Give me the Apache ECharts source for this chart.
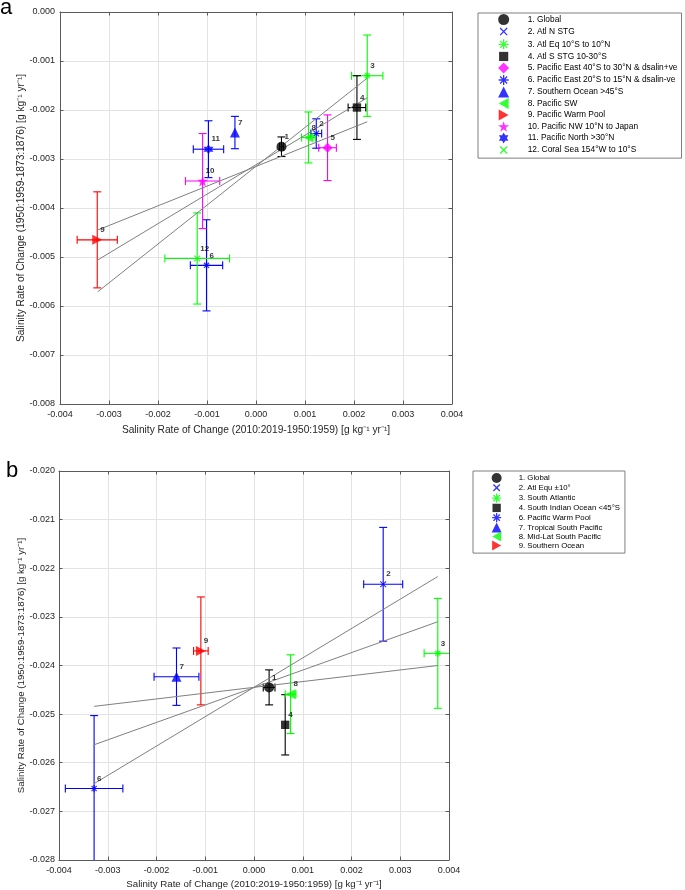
<!DOCTYPE html>
<html>
<head>
<meta charset="utf-8">
<title>Salinity rate of change</title>
<script src="https://cdn.jsdelivr.net/npm/echarts@6/dist/echarts.min.js"></script>
<style>
  html, body { margin: 0; padding: 0; background: #fff; }
  #main { width: 685px; height: 890px; }
</style>
</head>
<body>
<div id="main"></div>
<script>
// ---- panel a data ----
const aNames = [
  '1. Global', '2. Atl N STG', '3. Atl Eq 10°S to 10°N', '4. Atl S STG 10-30°S',
  '5. Pacific East 40°S to 30°N & dsalin+ve', '6. Pacific East 20°S to 15°N & dsalin-ve',
  '7. Southern Ocean >45°S', '8. Pacific SW', '9. Pacific Warm Pool',
  '10. Pacific NW 10°N to Japan', '11. Pacific North >30°N', '12. Coral Sea 154°W to 10°S'
];
const aX    = [0.00052, 0.00123, 0.00227, 0.00206, 0.00146, -0.00101, -0.00043, 0.00107, -0.00324, -0.00109, -0.00097, -0.00120];
const aY    = [-0.00275, -0.00248, -0.00130, -0.00195, -0.00277, -0.00517, -0.00246, -0.00256, -0.00465, -0.00345, -0.00280, -0.00503];
const aXErr = [0.00004, 0.00011, 0.00032, 0.00018, 0.00018, 0.00033, 0, 0.00014, 0.00041, 0.00035, 0.00031, 0.00066];
const aYErr = [0.00020, 0.00030, 0.00083, 0.00065, 0.00067, 0.00093, 0.00033, 0.00052, 0.00098, 0.00097, 0.00058, 0.00093];
const aFitX  = [-0.00323, 0.00227];
const aFitY1 = [-0.00445, -0.00224];
const aFitY2 = [-0.00506, -0.00175];
const aFitY3 = [-0.00571, -0.00135];

// ---- panel b data ----
const bNames = [
  '1. Global', '2. Atl Equ ±10°', '3. South Atlantic', '4. South Indian Ocean <45°S',
  '6. Pacific Warm Pool', '7. Tropical South Pacific', '8. Mid-Lat South Pacific', '9. Southern Ocean'
];
const bX    = [0.00031, 0.00265, 0.00377, 0.00064, -0.00328, -0.00159, 0.00075, -0.00109];
const bY    = [-0.02445, -0.02233, -0.02375, -0.02522, -0.02653, -0.02423, -0.02459, -0.02370];
const bXErr = [0.00012, 0.00040, 0.00028, 0, 0.00059, 0.00046, 0.00011, 0.00015];
const bYErr = [0.00036, 0.00117, 0.00113, 0.00062, 0.00150, 0.00059, 0.00081, 0.00111];
const bFitX  = [-0.00328, 0.00377];
const bFitY1 = [-0.02484, -0.02400];
const bFitY2 = [-0.02563, -0.02310];
const bFitY3 = [-0.02643, -0.02217];

// axis ticks [min, max, step]
const xTicks = [-0.004, 0.004, 0.001];
const aYTicks = [-0.008, 0, 0.001];
const bYTicks = [-0.028, -0.020, 0.001];

// ---- styles ----
const K = '#000000', B = '#0000ff', G = '#00ff00', M = '#ff00ff', R = '#ff0000';
const aColors  = [K, B, G, K, M, B, B, G, R, M, B, G];
const aMarkers = ['circle', 'cross', 'asterisk', 'square', 'diamond', 'asterisk', 'triUp', 'triLeft', 'triRight', 'star', 'hexagram', 'cross'];
const bColors  = [K, B, G, K, B, B, G, R];
const bMarkers = ['circle', 'cross', 'asterisk', 'square', 'asterisk', 'triUp', 'triLeft', 'triRight'];

const FONT = '"Liberation Sans", Arial, Helvetica, sans-serif';

function starPath(n, inner) {
  let d = '';
  for (let k = 0; k < 2 * n; k++) {
    const r = k % 2 === 0 ? 5 : 5 * inner;
    const ang = -Math.PI / 2 + k * Math.PI / n;
    d += (k === 0 ? 'M' : 'L') + (5 + r * Math.cos(ang)).toFixed(3) + ',' + (5 + r * Math.sin(ang)).toFixed(3);
  }
  return 'path://' + d + 'Z';
}

const SYMBOL = {
  circle: 'circle',
  cross: 'path://M-2.8,-2.8M12.8,12.8M0,0L10,10M10,0L0,10',
  asterisk: 'path://M-0.5,-0.5M10.5,10.5M5,0L5,10M0,5L10,5M1.5,1.5L8.5,8.5M8.5,1.5L1.5,8.5',
  square: 'path://M-1,-1M11,11M0,0L10,0L10,10L0,10Z',
  diamond: 'diamond',
  triUp: 'triangle',
  triLeft: 'path://M0,5L9,0L9,10Z',
  triRight: 'path://M9,5L0,0L0,10Z',
  star: starPath(5, 0.382),
  hexagram: starPath(6, 0.577)
};
const SIZE = { circle: 10, cross: 9, asterisk: 8, square: 10, diamond: 10, triUp: 10, triLeft: 10, triRight: 10, star: 11, hexagram: 10 };
const STROKED = { cross: true, asterisk: true };

function pointSeries(names, xs, ys, colors, markers, axis) {
  return names.map((name, i) => ({
    type: 'scatter',
    name: name,
    xAxisIndex: axis,
    yAxisIndex: axis,
    data: [[xs[i], ys[i]]],
    symbol: SYMBOL[markers[i]],
    symbolSize: SIZE[markers[i]],
    itemStyle: STROKED[markers[i]]
      ? { color: colors[i], borderColor: colors[i], borderWidth: 1.2 }
      : { color: colors[i], borderWidth: 0 },
    label: {
      show: true, position: 'inside', align: 'left', verticalAlign: 'middle',
      offset: [3, -10], formatter: name.split('.')[0],
      fontSize: 8, fontWeight: 'bold', color: '#000', fontFamily: FONT
    },
    z: 5,
    silent: true
  }));
}

function errorBars(colors) {
  return function (params, api) {
    const r = params.coordSys;
    const x = api.value(0), y = api.value(1), xe = api.value(2), ye = api.value(3);
    const color = colors[api.value(4)];
    const c = api.coord([x, y]);
    const top = api.coord([x, y + ye])[1];
    const bot = api.coord([x, y - ye])[1];
    const left = api.coord([x - xe, y])[0];
    const right = api.coord([x + xe, y])[0];
    const x0 = r.x, x1 = r.x + r.width, y0 = r.y, y1 = r.y + r.height;
    const cap = 4;
    const kids = [];
    const add = (p, q, s, t) => kids.push({
      type: 'line', shape: { x1: p, y1: q, x2: s, y2: t },
      style: { stroke: color, lineWidth: 1.1 }
    });
    add(c[0], Math.max(top, y0), c[0], Math.min(bot, y1));
    if (top >= y0) add(c[0] - cap, top, c[0] + cap, top);
    if (bot <= y1) add(c[0] - cap, bot, c[0] + cap, bot);
    if (xe > 0) {
      add(Math.max(left, x0), c[1], Math.min(right, x1), c[1]);
      if (left >= x0) add(left, c[1] - cap, left, c[1] + cap);
      if (right <= x1) add(right, c[1] - cap, right, c[1] + cap);
    }
    return { type: 'group', children: kids };
  };
}

function fitLine(xs, ys, axis) {
  return {
    type: 'line', xAxisIndex: axis, yAxisIndex: axis,
    data: [[xs[0], ys[0]], [xs[1], ys[1]]],
    symbol: 'none', silent: true, z: 3,
    lineStyle: { color: '#808080', width: 1 }
  };
}

const fmt = v => (Math.abs(v) < 1e-9 ? '0.000' : v.toFixed(3));
const AXIS_C = '#5a5a5a';

function mainAxis(grid, ticks, name, pos, labelMargin, nameGap, nameSize) {
  return {
    type: 'value', gridIndex: grid, position: pos,
    min: ticks[0], max: ticks[1], interval: ticks[2],
    name: name, nameLocation: 'middle', nameGap: nameGap, nameMoveOverlap: false,
    nameTextStyle: { fontSize: nameSize, fontFamily: FONT, color: '#262626' },
    axisLine: { show: true, onZero: false, lineStyle: { color: AXIS_C, width: 1 } },
    axisTick: { show: true, inside: true, length: 3.5, lineStyle: { color: AXIS_C } },
    axisLabel: { show: true, margin: labelMargin, fontSize: 9, fontFamily: FONT, color: '#262626', formatter: fmt },
    splitLine: { show: true, lineStyle: { color: '#e3e3e3', width: 1 } }
  };
}
function boxAxis(grid, ticks, pos) {
  return {
    type: 'value', gridIndex: grid, position: pos,
    min: ticks[0], max: ticks[1], interval: ticks[2],
    axisLine: { show: true, onZero: false, lineStyle: { color: AXIS_C, width: 1 } },
    axisTick: { show: true, inside: true, length: 3.5, lineStyle: { color: AXIS_C } },
    axisLabel: { show: false },
    splitLine: { show: false }
  };
}

const xName = 'Salinity Rate of Change (2010:2019-1950:1959) [g kg⁻¹ yr⁻¹]';
const yName = 'Salinity Rate of Change (1950:1959-1873:1876) [g kg⁻¹ yr⁻¹]';

function legendData(names, markers) {
  return names.map((n, i) => STROKED[markers[i]] ? { name: n, itemStyle: { borderWidth: 1.3 } } : { name: n });
}

const chart = echarts.init(document.getElementById('main'));
chart.setOption({
  animation: false,
  backgroundColor: '#fff',
  graphic: [
    { type: 'text', x: 0, y: 8, style: { text: 'a', font: '22px ' + FONT, fill: '#000', verticalAlign: 'middle' } },
    { type: 'text', x: 6, y: 471, style: { text: 'b', font: '22px ' + FONT, fill: '#000', verticalAlign: 'middle' } }
  ],
  grid: [
    { left: 60, top: 12, width: 392, height: 392 },
    { left: 59, top: 471, width: 390, height: 389 }
  ],
  xAxis: [
    mainAxis(0, xTicks, xName, 'bottom', 6.5, 21.5, 10.2),
    boxAxis(0, xTicks, 'top'),
    mainAxis(1, xTicks, xName, 'bottom', 6, 19, 9.7),
    boxAxis(1, xTicks, 'top')
  ],
  yAxis: [
    mainAxis(0, aYTicks, yName, 'left', 5, 34, 10.2),
    boxAxis(0, aYTicks, 'right'),
    mainAxis(1, bYTicks, yName, 'left', 4, 32.5, 9.7),
    boxAxis(1, bYTicks, 'right')
  ],
  legend: [
    {
      orient: 'vertical', left: 478, top: 13,
      data: legendData(aNames, aMarkers),
      itemWidth: 11, itemHeight: 11, itemGap: 0.45,
      padding: [1, 4, 2, 19.5],
      borderColor: '#7f7f7f', borderWidth: 1, backgroundColor: '#fff',
      selectedMode: false,
      textStyle: { fontSize: 8.4, lineHeight: 11, fontFamily: FONT, color: '#000', padding: [0, 0, 0, 13.5] }
    },
    {
      orient: 'vertical', left: 473, top: 471,
      data: legendData(bNames, bMarkers),
      itemWidth: 10, itemHeight: 10, itemGap: -0.9,
      padding: [2, 5, 2.5, 18],
      borderColor: '#7f7f7f', borderWidth: 1, backgroundColor: '#fff',
      selectedMode: false,
      textStyle: { fontSize: 7.8, lineHeight: 10, fontFamily: FONT, color: '#000', padding: [0, 0, 0, 12] }
    }
  ],
  series: [
    {
      type: 'custom', xAxisIndex: 0, yAxisIndex: 0, silent: true, z: 2,
      renderItem: errorBars(aColors),
      encode: { x: 0, y: 1 },
      data: aX.map((x, i) => [x, aY[i], aXErr[i], aYErr[i], i])
    },
    {
      type: 'custom', xAxisIndex: 2, yAxisIndex: 2, silent: true, z: 2,
      renderItem: errorBars(bColors),
      encode: { x: 0, y: 1 },
      data: bX.map((x, i) => [x, bY[i], bXErr[i], bYErr[i], i])
    },
    fitLine(aFitX, aFitY1, 0),
    fitLine(aFitX, aFitY2, 0),
    fitLine(aFitX, aFitY3, 0),
    fitLine(bFitX, bFitY1, 2),
    fitLine(bFitX, bFitY2, 2),
    fitLine(bFitX, bFitY3, 2)
  ]
    .concat(pointSeries(aNames, aX, aY, aColors, aMarkers, 0))
    .concat(pointSeries(bNames, bX, bY, bColors, bMarkers, 2))
});
</script>
</body>
</html>
